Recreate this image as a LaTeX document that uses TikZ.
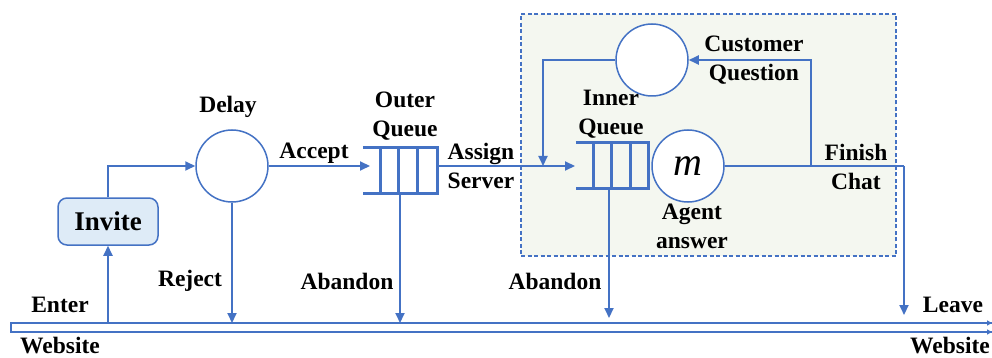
\documentclass[tikz,border=0pt]{standalone}
\usepackage{fontspec}
\setmainfont{Liberation Serif}[BoldFont={Liberation Serif Bold}, ItalicFont={Liberation Serif Italic}]
\newfontfamily\lblfont{Liberation Serif Bold}
\newfontfamily\varfont{Liberation Serif Italic}
\usetikzlibrary{arrows.meta}
\definecolor{flowblue}{HTML}{4472C4}
\definecolor{invitefill}{HTML}{DEEBF7}
\definecolor{groupfill}{HTML}{F4F7F0}
\tikzset{
  flow/.style={draw=flowblue, line width=2pt},
  arr/.style={flow, -{Triangle[length=10pt,width=9pt]}},
  circ/.style={circle, draw=flowblue, line width=1.5pt, fill=white, minimum size=72pt, inner sep=0pt},
  qline/.style={draw=flowblue, line width=3pt},
  lbl/.style={font=\lblfont\fontsize{23.5}{29}\selectfont, align=center, inner sep=0pt},
  grpbox/.style={draw=flowblue, dash pattern=on 4pt off 2.5pt, line width=1.3pt, fill=groupfill, inner sep=0pt},
  invbox/.style={draw=flowblue, line width=1.5pt, fill=invitefill, rounded corners=9pt, inner sep=0pt,
    minimum width=100pt, minimum height=47pt, font=\lblfont\fontsize{27}{30}\selectfont},
  qbox/.style={inner sep=0pt, minimum width=74pt, minimum height=45pt},
}
\begin{document}
\begin{tikzpicture}[x=1pt, y=-1pt]
\useasboundingbox (0,0) rectangle (992,358);

% group of inner queue, agent and question loop
\node[grpbox, minimum width=375pt, minimum height=242pt] (grp) at (708.5,135) {};

% website bar
\coordinate (barTL) at (11,323);
\coordinate (barBL) at (11,332);
\coordinate (barTR) at (992,323);
\coordinate (barBR) at (992,332);
\draw[flowblue, line width=1.6pt] (barTR) -- (barTL) -- (barBL) -- (barBR);
\draw[flowblue, line width=1.6pt, -{Triangle[length=5pt,width=5pt]}] (986,323) -- (barTR);
\draw[flowblue, line width=1.6pt, -{Triangle[length=5pt,width=5pt]}] (986,332) -- (barBR);

% nodes
\node[invbox] (invite) at (108,221.5) {Invite};
\node[circ] (delay) at (232,166) {};
\node[circ] (quest) at (652,60) {};
\node[circ, font=\varfont\fontsize{40}{40}\selectfont] (agent) at (688,166) {m};

% outer queue
\node[qbox] (oq) at (400,170.5) {};
\draw[qline] (oq.north west) -- (oq.north east) -- (oq.south east) -- (oq.south west);
\draw[qline] (380,148) -- (380,193) (398,148) -- (398,193) (417,148) -- (417,193);

% inner queue
\node[qbox, minimum width=72pt, minimum height=46pt] (iq) at (612,165.5) {};
\draw[qline] (iq.north west) -- (iq.north east) -- (iq.south east) -- (iq.south west);
\draw[qline] (593,142.5) -- (593,188.5) (611,142.5) -- (611,188.5) (630,142.5) -- (630,188.5);

% connectors
\coordinate (joinA) at (543,166);
\coordinate (split) at (811,166);
\coordinate (turn) at (904,166);
\draw[arr] (108,323) -- (invite.south);
\draw[arr] (invite.north) |- (delay.west);
\draw[arr] (delay.south) -- (delay.south |- barTL);
\draw[arr] (delay.east) -- (370,166);
\draw[arr] (437,166) -- (575,166);
\draw[arr] (quest.west) -| (joinA);
\draw[arr] (400,193) -- (400,323);
\draw[arr] (609,188.5) -- (609,318);
\draw[flow] (agent.east) -- (turn);
\draw[arr] (turn) -- (904,315);
\draw[arr] (split) |- (quest.east);

% labels
\node[lbl] (tDelay) at (228,107) {Delay};
\node[lbl] (tAccept) at (314,153) {Accept};
\node[lbl] (tOuter) at (405,116) {Outer\\Queue};
\node[lbl] (tAssign) at (481,165.5) {Assign\\Server};
\node[lbl] (tInner) at (611,114.5) {Inner\\Queue};
\node[lbl] (tCust) at (754,60.5) {Customer\\Question};
\node[lbl] (tFinish) at (856,167) {Finish\\Chat};
\node[lbl] (tAgent) at (692,226) {Agent\\answer};
\node[lbl] (tReject) at (190,281) {Reject};
\node[lbl] (tAb1) at (347,281) {Abandon};
\node[lbl] (tAb2) at (555,281) {Abandon};
\node[lbl] (tEnter) at (60,305) {Enter};
\node[lbl] (tLeave) at (953,305) {Leave};
\node[lbl] (tWebL) at (60,346) {Website};
\node[lbl, anchor=east] (tWebR) at (990,346) {Website};
\end{tikzpicture}
\end{document}
